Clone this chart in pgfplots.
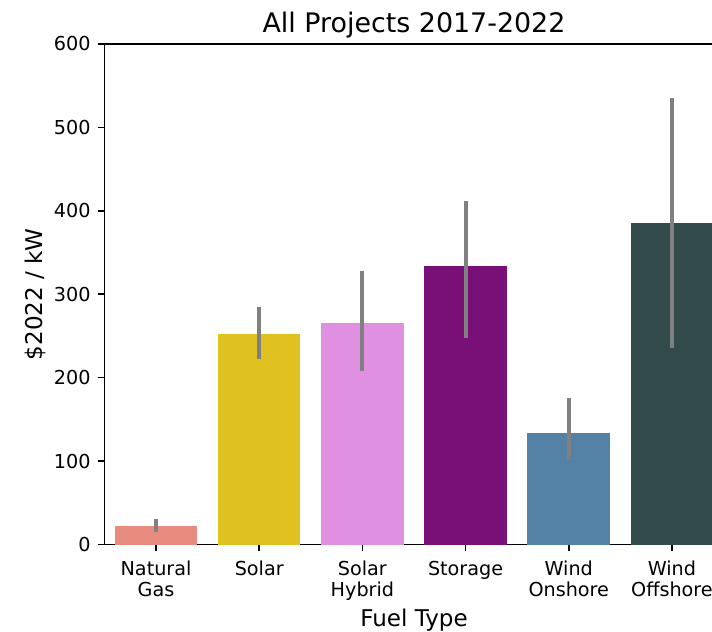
\documentclass[border=0pt]{standalone}
\usepackage{fontspec}
\setmainfont{DejaVu Sans}
\usepackage{pgfplots}
\pgfplotsset{compat=1.18}
\definecolor{cNG}{HTML}{E88C80}
\definecolor{cSo}{HTML}{DFC120}
\definecolor{cSH}{HTML}{E090E0}
\definecolor{cSt}{HTML}{781078}
\definecolor{cWO}{HTML}{5481A6}
\definecolor{cWF}{HTML}{334B4B}
\definecolor{errc}{HTML}{808080}
\begin{document}
\begin{tikzpicture}
\begin{axis}[
  name=ax,
  scale only axis,
  width=322.4pt, height=260.7pt,
  xmin=-0.5, xmax=5.5, ymin=0, ymax=600,
  xtick={0,1,2,3,4,5},
  xticklabels={{\strut Natural\\Gas},\strut Solar,{\strut Solar\\Hybrid},\strut Storage,{\strut Wind\\Onshore},{\strut Wind\\Offshore}},
  ytick={0,100,200,300,400,500,600},
  tick pos=left,
  tick align=outside,
  major tick length=3.5pt,
  every tick/.style={black, line width=0.8pt},
  axis line style={black, line width=0.8pt},
  /pgf/number format/assume math mode=true,
  tick label style={font=\fontsize{10}{11.1}\selectfont},
  xticklabel style={align=center, inner sep=0pt, yshift=-4.5pt},
  yticklabel style={inner sep=0pt, xshift=-3.5pt},
  xlabel={Fuel Type},
  ylabel={\$2022 / kW},
  every axis y label/.style={at={(axis description cs:0,0.5)}, xshift=-36.2pt, rotate=90, anchor=center, font=\fontsize{12}{14}\selectfont},
  every axis x label/.style={at={(axis description cs:0.5,0)}, yshift=-42.5pt, anchor=base, font=\fontsize{12}{14}\selectfont},
  title={All Projects 2017-2022},
  every axis title/.style={at={(axis description cs:0.5,1)}, anchor=base, yshift=6pt, font=\fontsize{14}{16}\selectfont},
  ybar, bar width=0.8, bar shift=0pt,
  error bars/y dir=both, error bars/y explicit,
  error bars/error mark=none,
  error bars/error bar style={errc, line width=2.1pt},
]
\addplot[fill=cNG, draw=none] coordinates {(0,22.3) += (0,8.2) -= (0,6.9)};
\addplot[fill=cSo, draw=none] coordinates {(1,252) += (0,32.4) -= (0,29.6)};
\addplot[fill=cSH, draw=none] coordinates {(2,265) += (0,63) -= (0,56.6)};
\addplot[fill=cSt, draw=none] coordinates {(3,334) += (0,78) -= (0,86)};
\addplot[fill=cWO, draw=none] coordinates {(4,134) += (0,41.3) -= (0,32.7)};
\addplot[fill=cWF, draw=none] coordinates {(5,385) += (0,150) -= (0,149.7)};
\end{axis}
\pgfresetboundingbox
\useasboundingbox ([xshift=-54.4pt,yshift=-45.05pt]ax.south west) rectangle ([xshift=316.4pt,yshift=283.6pt]ax.south west);
\end{tikzpicture}
\end{document}
